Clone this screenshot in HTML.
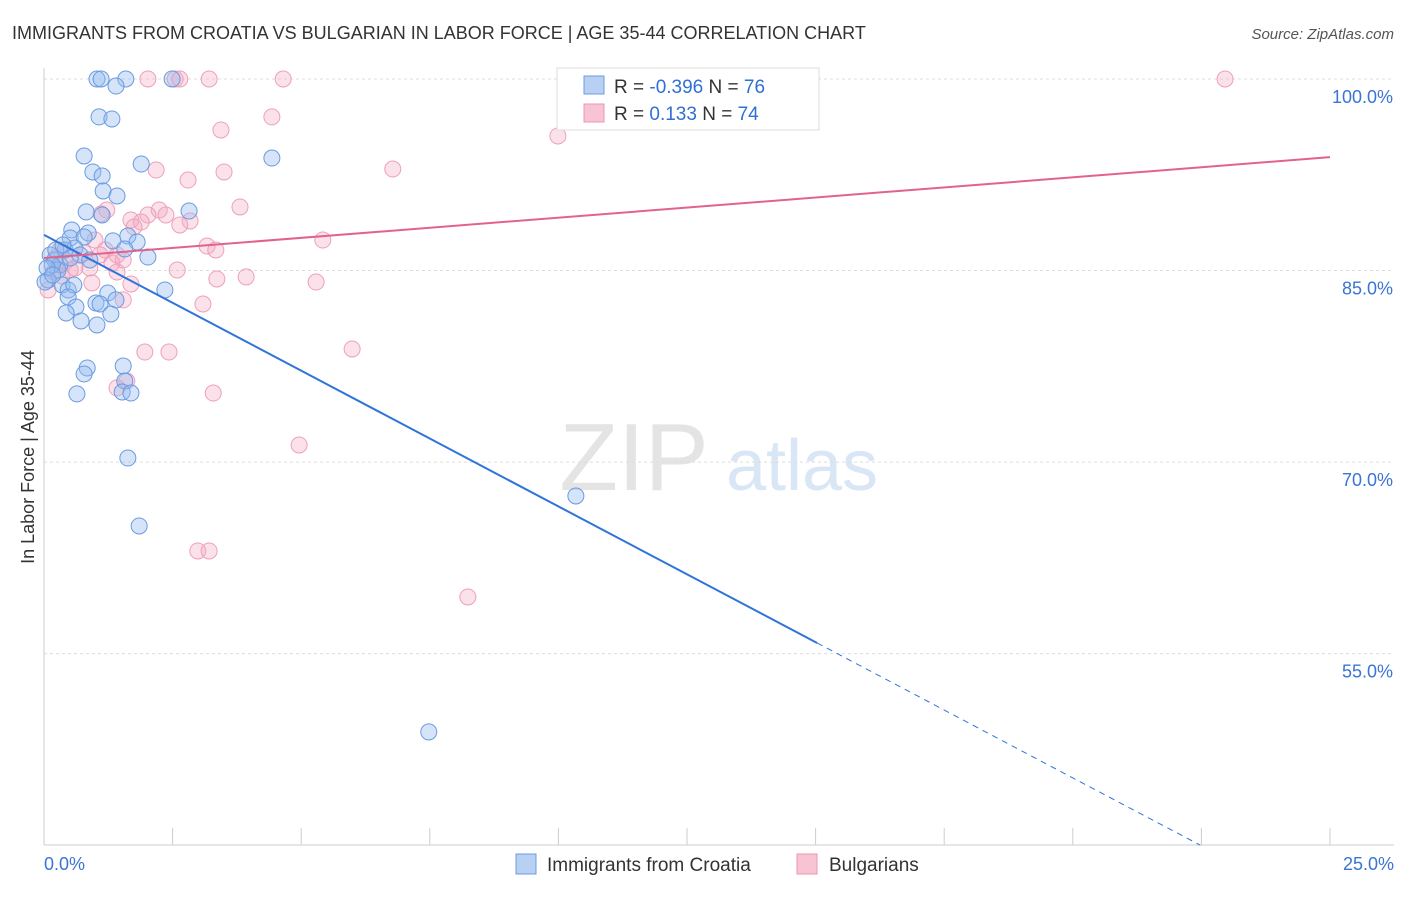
<!DOCTYPE html>
<html><head><meta charset="utf-8"><style>
body{margin:0;background:#fff;font-family:"Liberation Sans",sans-serif}
svg text{font-family:"Liberation Sans",sans-serif}
</style></head><body>
<svg id="chart" width="1406" height="892" xmlns="http://www.w3.org/2000/svg">
<text x="12" y="39" font-size="18" fill="#333">IMMIGRANTS FROM CROATIA VS BULGARIAN IN LABOR FORCE | AGE 35-44 CORRELATION CHART</text>
<text x="1394" y="39" font-size="15" fill="#555" font-style="italic" text-anchor="end">Source: ZipAtlas.com</text>
<text x="634" y="490" font-size="96" fill="#e4e4e4" font-family="Liberation Serif" text-anchor="middle">ZIP</text>
<text x="802" y="490" font-size="72" fill="#d9e6f5" text-anchor="middle">atlas</text>
<text transform="translate(34,457) rotate(-90)" font-size="18" fill="#333" text-anchor="middle">In Labor Force | Age 35-44</text>
<g id="grid"></g><g id="axes"></g><g id="pts"></g><g id="lines"></g>
<g>
<rect x="557" y="68" width="262" height="62" fill="#fff" stroke="#ddd"/>
<rect x="584" y="76" width="20" height="18" fill="#b8d1f3" stroke="#6a9be0"/>
<rect x="584" y="104" width="20" height="18" fill="#f8c4d4" stroke="#ec95b2"/>
<text x="614" y="93" font-size="19" fill="#333">R = <tspan fill="#2f6fd6">-0.396</tspan>   N = <tspan fill="#2f6fd6">76</tspan></text>
<text x="614" y="120" font-size="19" fill="#333">R =    <tspan fill="#2f6fd6">0.133</tspan>   N = <tspan fill="#2f6fd6">74</tspan></text>
</g>
<g>
<rect x="516" y="854" width="20" height="20" fill="#b8d1f3" stroke="#6a9be0"/>
<text x="547" y="871" font-size="19" fill="#333">Immigrants from Croatia</text>
<rect x="797" y="854" width="20" height="20" fill="#f8c4d4" stroke="#ec95b2"/>
<text x="829" y="871" font-size="19" fill="#333">Bulgarians</text>
</g>
</svg>
<script>
const blueX=[1.03,1.11,1.59,2.49,1.40,1.07,1.32,0.78,1.89,4.43,0.95,1.13,1.15,1.42,0.82,2.82,1.13,0.54,0.86,1.63,1.81,0.51,0.78,1.34,1.57,2.02,0.12,0.21,0.31,0.41,0.60,0.70,0.89,0.27,0.08,0.35,0.47,0.58,2.35,1.24,1.01,1.09,1.40,0.47,0.62,0.43,1.30,0.72,1.03,1.54,0.84,0.78,1.57,1.52,1.69,0.64,1.63,1.85,10.34,7.48,0.16,0.06,0.23,0.37,0.51,0.02,0.17];
const blueY=[100,100,100,100,99.45,97.03,96.87,93.97,93.34,93.81,92.72,92.40,91.23,90.84,89.59,89.66,89.35,88.18,87.94,87.71,87.24,87.55,87.63,87.32,86.69,86.06,86.22,85.83,85.44,86.61,86.77,86.22,85.83,85.04,84.26,83.87,83.48,83.87,83.48,83.24,82.46,82.38,82.70,82.93,82.15,81.68,81.60,81.05,80.74,77.53,77.37,76.90,76.35,75.49,75.41,75.34,70.32,65.00,67.35,48.87,85.44,85.20,86.61,87.00,85.98,84.10,84.65];
const pinkX=[2.02,2.55,2.64,3.21,4.65,22.96,4.43,3.44,9.99,2.18,3.50,6.78,2.80,3.81,1.22,2.24,1.11,1.69,2.02,2.37,2.84,1.89,1.75,2.64,5.42,0.99,3.17,3.34,1.19,1.42,1.54,0.78,0.41,0.60,0.89,2.59,0.19,0.35,1.42,3.93,3.36,5.29,1.69,0.93,0.08,1.54,3.09,5.99,1.96,2.43,1.61,1.42,3.29,4.96,2.99,3.21,8.24,0.23,0.51,1.09,1.32,0.31];
const pinkY=[100,100,100,100,100,100,97.03,96.01,95.54,92.87,92.72,92.95,92.09,89.98,89.74,89.74,89.43,88.96,89.35,89.35,88.88,88.80,88.41,88.57,87.39,87.39,86.92,86.61,86.61,86.22,85.83,86.38,85.67,85.20,85.20,85.04,84.89,84.57,84.89,84.50,84.34,84.10,83.95,84.03,83.48,82.70,82.38,78.86,78.62,78.62,76.35,75.81,75.41,71.34,63.04,63.04,59.44,85.98,85.04,86.22,85.59,86.61];
const yTicks=[100,85,70,55];
const yTickLabels=["100.0%","85.0%","70.0%","55.0%"];
const blueTrend=[87.79,-2.126];
const pinkTrend=[85.98,0.316];
const NS="http://www.w3.org/2000/svg";
const sx=v=>44+v/25*1286;
const sy=v=>79+(100-v)*12.77;
function mk(tag,attrs,parent){const e=document.createElementNS(NS,tag);for(const k in attrs)e.setAttribute(k,attrs[k]);document.getElementById(parent).appendChild(e);return e;}
yTicks.forEach((t,i)=>{
 const l=mk('line',{x1:44,x2:1394,y1:sy(t),y2:sy(t),stroke:'#ddd','stroke-dasharray':'3,3'},'grid');
 
 
 const tx=mk('text',{x:1393,y:sy(t)+24,'font-size':18,fill:'#3a74d4','text-anchor':'end'},'grid');
 tx.textContent=yTickLabels[i];
 
 
});
const ax=mk('line',{x1:44,x2:44,y1:68,y2:845,stroke:'#ccc'},'axes');


const bx=mk('line',{x1:44,x2:1394,y1:845,y2:845,stroke:'#ccc'},'axes');


for(let i=0;i<=10;i++){const t=mk('line',{x1:sx(i*2.5),x2:sx(i*2.5),y1:828,y2:845,stroke:'#ccc'},'axes');
 
 }
[[0,"0.0%",'start',44],[25,"25.0%",'end',1394]].forEach(a=>{const t=mk('text',{x:a[3],y:870,'font-size':18,fill:'#3a74d4','text-anchor':a[2]},'axes');t.textContent=a[1];
 
 });
pinkX.forEach((x,i)=>{const c=mk('circle',{cx:sx(x),cy:sy(pinkY[i]),r:8,fill:'rgba(244,170,196,0.35)',stroke:'#eea0ba','stroke-width':1},'pts');
 
 });
blueX.forEach((x,i)=>{const c=mk('circle',{cx:sx(x),cy:sy(blueY[i]),r:8,fill:'rgba(150,188,240,0.4)',stroke:'#6a9be0','stroke-width':1},'pts');
 
 });
const bf=x=>blueTrend[0]+blueTrend[1]*x, pf=x=>pinkTrend[0]+pinkTrend[1]*x;
const b1=mk('line',{x1:sx(0),y1:sy(bf(0)),x2:sx(15.03),y2:sy(bf(15.03)),stroke:'#2f74d8','stroke-width':2},'lines');


const xe=(blueTrend[0]-40)/-blueTrend[1];
const b2=mk('line',{x1:sx(15.03),y1:sy(bf(15.03)),x2:sx(xe),y2:sy(bf(xe)),stroke:'#2f74d8','stroke-width':1,'stroke-dasharray':'6,5'},'lines');


const p1=mk('line',{x1:sx(0),y1:sy(pf(0)),x2:sx(25),y2:sy(pf(25)),stroke:'#e2628e','stroke-width':2},'lines');


</script>
</body></html>
